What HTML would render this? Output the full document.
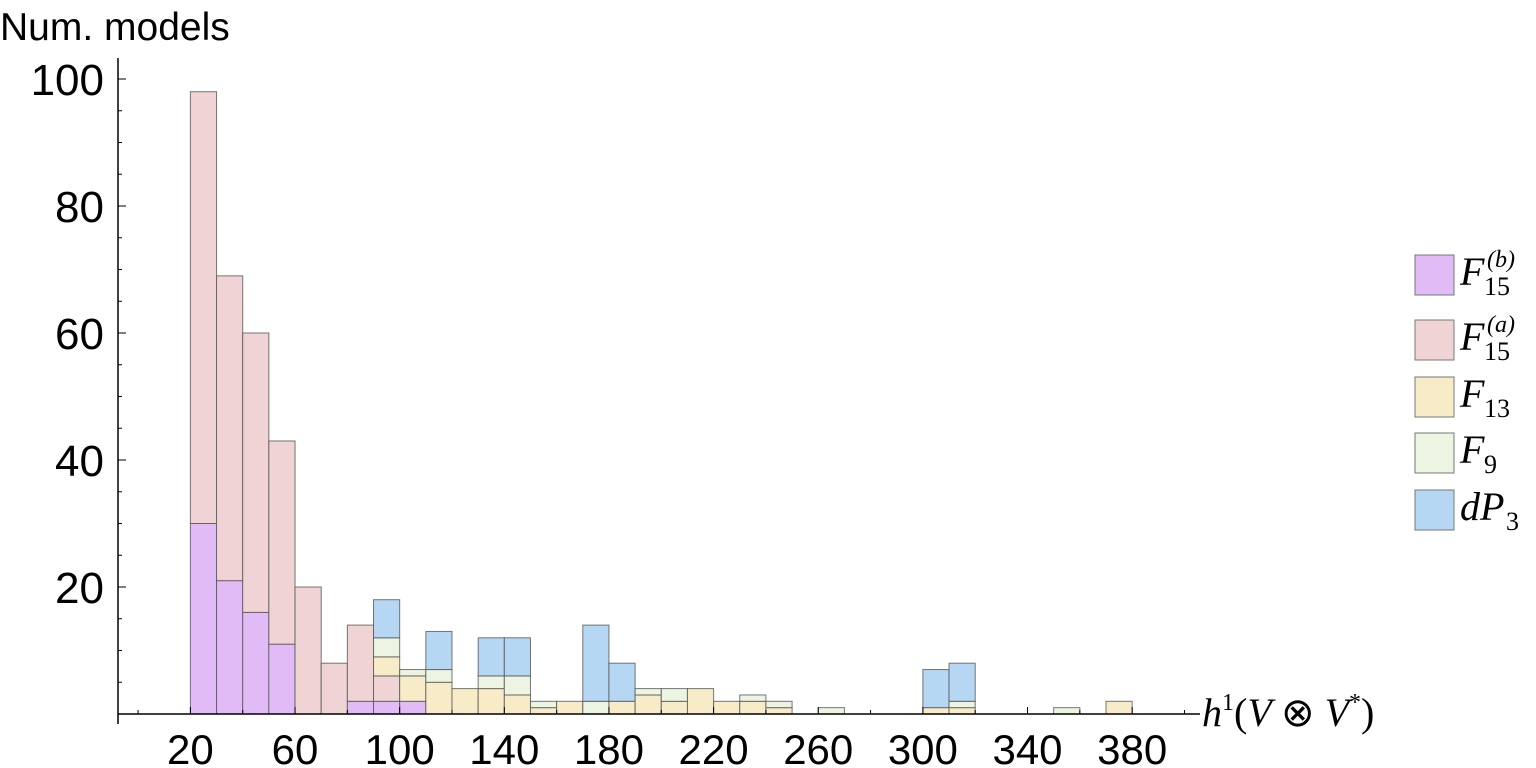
<!DOCTYPE html>
<html><head><meta charset="utf-8"><style>
html,body{margin:0;padding:0;background:#fff;width:1536px;height:768px;overflow:hidden}
svg{display:block}
text{font-family:"Liberation Sans",sans-serif;fill:#000}
.ser{font-family:"Liberation Serif",serif;font-style:italic}
</style></head><body>
<svg id="chart" width="1536" height="768" viewBox="0 0 1536 768" xmlns="http://www.w3.org/2000/svg">
<text x="0" y="40" font-size="39">Num. models</text>
<text x="1202" y="726" font-size="40" class="ser">h<tspan font-style="normal" font-size="24" dy="-16">1</tspan><tspan dy="16" font-style="normal">(</tspan>V <tspan font-style="normal">⊗</tspan> V<tspan font-style="normal" font-size="24" dy="-16">*</tspan><tspan dy="16" font-style="normal">)</tspan></text>
<g id="bars"></g>
<g id="axes"></g>
<g id="legend"></g>
</svg>
<script>
const bins = [20,30,40,50,60,70,80,90,100,110,120,130,140,150,160,170,180,190,200,210,220,230,240,250,260,270,280,290,300,310,320,330,340,350,360,370];
const f15b = [30,21,16,11,0,0,2,2,2,0,0,0,0,0,0,0,0,0,0,0,0,0,0,0,0,0,0,0,0,0,0,0,0,0,0,0];
const f15a = [68,48,44,32,20,8,12,4,0,0,0,0,0,0,0,0,0,0,0,0,0,0,0,0,0,0,0,0,0,0,0,0,0,0,0,0];
const f13  = [0,0,0,0,0,0,0,3,4,5,4,4,3,1,2,0,2,3,2,4,2,2,1,0,0,0,0,0,1,1,0,0,0,0,0,2];
const f9   = [0,0,0,0,0,0,0,3,1,2,0,2,3,1,0,2,0,1,2,0,0,1,1,0,1,0,0,0,0,1,0,0,0,1,0,0];
const dp3  = [0,0,0,0,0,0,0,6,0,6,0,6,6,0,0,12,6,0,0,0,0,0,0,0,0,0,0,0,6,6,0,0,0,0,0,0];
const xTicks = [20,60,100,140,180,220,260,300,340,380];
const yTicks = [20,40,60,80,100];
const seriesNames = ['f15b','f15a','f13','f9','dp3'];
const seriesColors = ['#e0bbf6','#f0d4d5','#f8ecc8','#ebf5e2','#b5d7f3'];
const series = [f15b,f15a,f13,f9,dp3];
const binWidth = 10;

const NS='http://www.w3.org/2000/svg';
const X = v => 190.4 + (v-20)*2.616;
const Y = v => 714 - v*6.35;
function mk(tag, attrs, parent){const e=document.createElementNS(NS,tag);for(const k in attrs)e.setAttribute(k,attrs[k]);parent.appendChild(e);return e;}
const gb=document.getElementById('bars');
bins.forEach((b,i)=>{
  let acc=0;
  series.forEach((s,j)=>{
    const v=s[i]; if(!v) return;
    const r=mk('rect',{x:X(b),y:Y(acc+v),width:X(b+binWidth)-X(b),height:Y(acc)-Y(acc+v),fill:seriesColors[j],stroke:'#555','stroke-width':1,'stroke-opacity':0.8},gb);
    
    
    acc+=v;
  });
});
const ga=document.getElementById('axes');
const xl=mk('line',{x1:118,y1:714,x2:1200,y2:714,stroke:'#000','stroke-width':1.5},ga);


const yl=mk('line',{x1:118,y1:724,x2:118,y2:58,stroke:'#000','stroke-width':1.5},ga);


for(let v=5;v<=100;v+=5){mk('line',{x1:118,y1:Y(v),x2:v%20?122:126,y2:Y(v),stroke:'#000','stroke-width':1},ga);}
for(let v=0;v<=400;v+=20){ if(X(v)<118) continue; mk('line',{x1:X(v),y1:714,x2:X(v),y2:v%40===20?707:710,stroke:'#000','stroke-width':1},ga);}
yTicks.forEach(v=>{const t=mk('text',{x:104,y:Y(v)+16,'font-size':44,'text-anchor':'end'},ga);t.textContent=v;

});
xTicks.forEach(v=>{const t=mk('text',{x:X(v),y:764,'font-size':42,'text-anchor':'middle'},ga);t.textContent=v;

});
const gl=document.getElementById('legend');
const legY=[255,320,377,433,490];
const legLab=[['F','15','(b)'],['F','15','(a)'],['F','13',''],['F','9',''],['dP','3','']];
for(let k=0;k<5;k++){
  const sw=mk('rect',{x:1415,y:legY[k],width:39,height:40,fill:seriesColors[k],stroke:'#777','stroke-width':1},gl);
  
  
  const t=mk('text',{x:1460,y:legY[k]+30,'font-size':40,class:'ser'},gl);
  
  
  const a=document.createElementNS(NS,'tspan');a.textContent=legLab[k][0];t.appendChild(a);
  const x0 = k===4?1506:1484;
  const s=mk('tspan',{x:x0,y:legY[k]+40,'font-size':26,'font-style':'normal'},t);s.textContent=legLab[k][1];
  if(legLab[k][2]){const p=mk('tspan',{x:x0+3,y:legY[k]+12,'font-size':24},t);p.textContent=legLab[k][2];}
}
</script>
</body></html>
